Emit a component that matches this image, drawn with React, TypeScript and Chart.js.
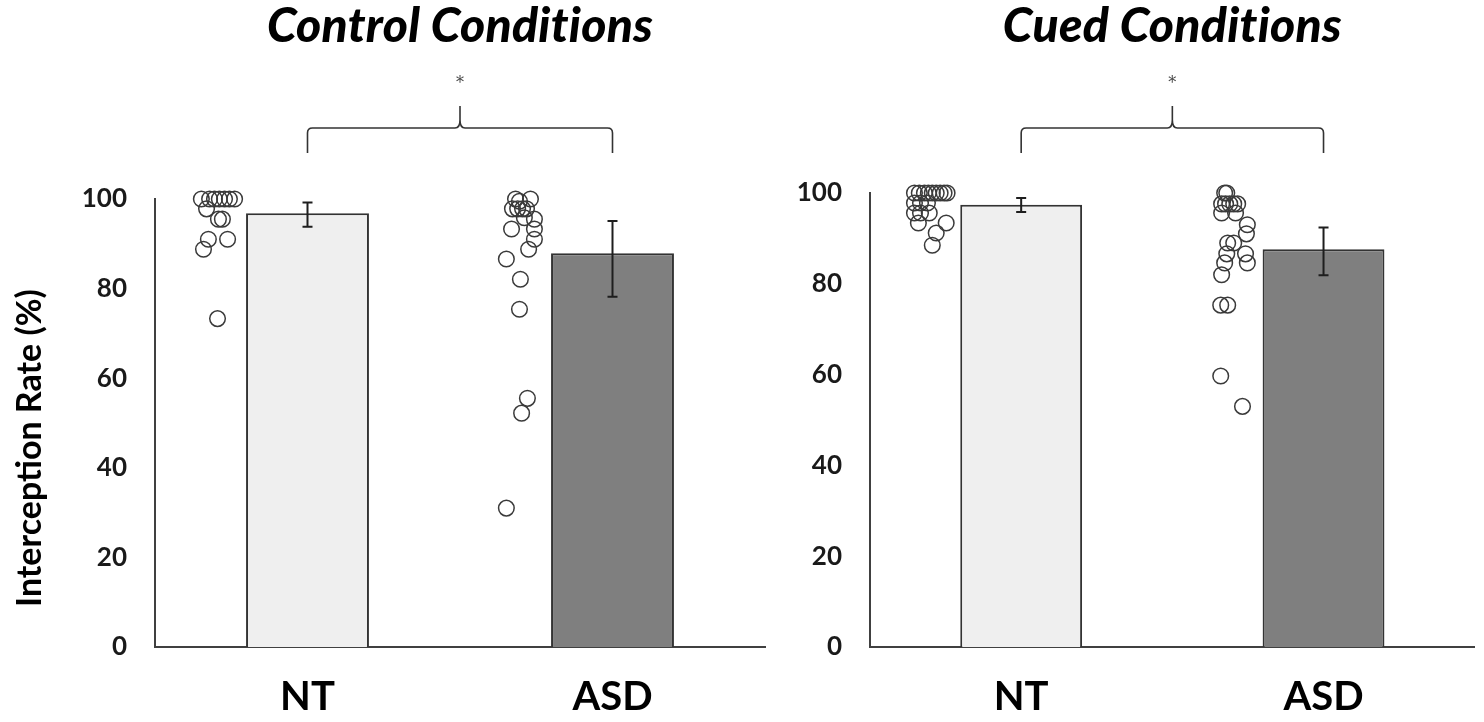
import React, { useEffect, useRef } from "react";
import { Chart, registerables } from "chart.js";

Chart.register(...registerables);

const categories = ["NT", "ASD"];
const yTickValues = [0, 20, 40, 60, 80, 100];
const yAxisTitle = "Interception Rate (%)";
const significance = "*";

// Control conditions
const ctrlTitle = "Control Conditions";
const ctrlMeans = [96.8, 87.9];
const ctrlErrLow = [93.8, 78.2];
const ctrlErrHigh = [99.2, 95.1];
const ctrlNtX = [0.652, 0.679, 0.695, 0.711, 0.728, 0.744, 0.761, 0.669, 0.708, 0.721, 0.675, 0.738, 0.659, 0.705];
const ctrlNtY = [100, 100, 100, 100, 100, 100, 100, 97.8, 95.5, 95.5, 91, 91, 88.8, 73.3];
const ctrlAsdX = [1.682, 1.731, 1.695, 1.672, 1.689, 1.705, 1.718, 1.711, 1.744, 1.669, 1.744, 1.744, 1.725, 1.652, 1.698, 1.695, 1.721, 1.702, 1.652];
const ctrlAsdY = [100, 100, 99.5, 97.8, 97.8, 97.8, 97.8, 95.8, 95.5, 93.3, 93.3, 91, 88.8, 86.6, 82.1, 75.4, 55.5, 52.2, 31];

// Cued conditions
const cuedTitle = "Cued Conditions";
const cuedMeans = [97.4, 87.6];
const cuedErrLow = [95.8, 81.9];
const cuedErrHigh = [98.9, 92.4];
const cuedNtX = [0.647, 0.663, 0.68, 0.693, 0.706, 0.719, 0.732, 0.745, 0.755, 0.647, 0.667, 0.69, 0.647, 0.667, 0.696, 0.66, 0.752, 0.719, 0.706];
const cuedNtY = [100, 100, 100, 100, 100, 100, 100, 100, 100, 97.8, 97.8, 97.8, 95.6, 95.6, 95.6, 93.4, 93.4, 91.2, 88.5];
const cuedAsdX = [1.673, 1.68, 1.663, 1.676, 1.69, 1.703, 1.716, 1.663, 1.709, 1.748, 1.745, 1.683, 1.703, 1.68, 1.742, 1.673, 1.748, 1.663, 1.66, 1.683, 1.66, 1.732];
const cuedAsdY = [100, 100, 97.6, 97.6, 97.6, 97.6, 97.6, 95.6, 95.6, 93, 91, 89, 89, 86.6, 86.6, 84.6, 84.6, 82, 75.3, 75.3, 59.7, 53];

const FONT = "Lato, 'Open Sans', sans-serif";

const overlayPlugin = {
  id: "overlay",
  afterDatasetsDraw(chart: any, _args: any, opts: any) {
    const { ctx, chartArea } = chart;
    const xs = chart.scales.x;
    const ys = chart.scales.y;
    ctx.save();
    // error bars
    ctx.strokeStyle = "#1e1e1e";
    ctx.lineWidth = 2;
    opts.low.forEach((lo: number, i: number) => {
      const px = xs.getPixelForValue(i + 1);
      const yl = ys.getPixelForValue(lo);
      const yh = ys.getPixelForValue(opts.high[i]);
      ctx.beginPath();
      ctx.moveTo(px, yl);
      ctx.lineTo(px, yh);
      ctx.moveTo(px - 5, yl);
      ctx.lineTo(px + 5, yl);
      ctx.moveTo(px - 5, yh);
      ctx.lineTo(px + 5, yh);
      ctx.stroke();
    });
    // title
    const cx = (chartArea.left + chartArea.right) / 2;
    ctx.fillStyle = "#000";
    ctx.font = `italic 900 48px ${FONT}`;
    ctx.textAlign = "center";
    ctx.textBaseline = "middle";
    try {
      (ctx as any).letterSpacing = "0.3px";
    } catch (e) {}
    ctx.fillText(opts.title, cx, 27);
    try {
      (ctx as any).letterSpacing = "0px";
    } catch (e) {}
    // bracket
    const x1 = xs.getPixelForValue(1);
    const x2 = xs.getPixelForValue(2);
    const mid = (x1 + x2) / 2;
    const yH = 128, yEnd = 153, yTip = 106, r = 5;
    ctx.strokeStyle = "#333";
    ctx.lineWidth = 1.6;
    ctx.beginPath();
    ctx.moveTo(x1, yEnd);
    ctx.lineTo(x1, yH + r);
    ctx.quadraticCurveTo(x1, yH, x1 + r, yH);
    ctx.lineTo(mid - r, yH);
    ctx.quadraticCurveTo(mid, yH, mid, yH - 8);
    ctx.lineTo(mid, yTip);
    ctx.moveTo(mid, yH - 8);
    ctx.quadraticCurveTo(mid, yH, mid + r, yH);
    ctx.lineTo(x2 - r, yH);
    ctx.quadraticCurveTo(x2, yH, x2, yH + r);
    ctx.lineTo(x2, yEnd);
    ctx.stroke();
    // asterisk
    ctx.fillStyle = "#444";
    ctx.font = "16px 'DejaVu Serif', serif";
    ctx.fillText(significance, mid, 84);
    // y-axis title
    if (opts.yTitle) {
      ctx.save();
      ctx.translate(30, 448);
      ctx.rotate(-Math.PI / 2);
      ctx.fillStyle = "#000";
      ctx.font = `bold 34px ${FONT}`;
      ctx.fillText(opts.yTitle, 0, 0);
      ctx.restore();
    }
    ctx.restore();
  },
};

function makeConfig(
  title: string,
  means: number[],
  low: number[],
  high: number[],
  ntX: number[],
  ntY: number[],
  asdX: number[],
  asdY: number[],
  yWidth: number,
  padTop: number,
  padRight: number,
  yTitle: string | null
): any {
  const points = [
    ...ntX.map((x, i) => ({ x, y: ntY[i] })),
    ...asdX.map((x, i) => ({ x, y: asdY[i] })),
  ];
  return {
    type: "bar",
    data: {
      datasets: [
        {
          type: "scatter",
          data: points,
          clip: false,
          pointRadius: 7.8,
          pointHoverRadius: 7.8,
          borderColor: "#3a3a3a",
          borderWidth: 1.5,
          backgroundColor: "rgba(0,0,0,0)",
          order: 0,
        },
        {
          type: "bar",
          data: means.map((v, i) => ({ x: i + 1, y: v })),
          backgroundColor: ["#efefef", "#7f7f7f"],
          borderColor: "#333",
          borderWidth: 2,
          barPercentage: 0.403,
          categoryPercentage: 1,
          order: 1,
        },
      ],
    },
    options: {
      animation: false,
      responsive: false,
      maintainAspectRatio: false,
      layout: { padding: { top: padTop, right: padRight, left: 0, bottom: 0 } },
      plugins: {
        legend: { display: false },
        tooltip: { enabled: false },
        title: { display: false },
        overlay: { title, low, high, yTitle },
      },
      scales: {
        x: {
          type: "linear",
          min: 0.5,
          max: 2.5,
          offset: false,
          grid: { display: false, drawTicks: false },
          border: { display: true, color: "#404040", width: 2 },
          afterBuildTicks: (s: any) => {
            s.ticks = categories.map((_, i) => ({ value: i + 1 }));
          },
          afterFit: (s: any) => {
            s.height = 75;
          },
          ticks: {
            padding: 26,
            color: "#000",
            font: { family: FONT, weight: "bold", size: 40 },
            callback: (v: number) => categories[Math.round(v) - 1] ?? "",
            maxRotation: 0,
            autoSkip: false,
          },
        },
        y: {
          min: 0,
          max: 100,
          grid: { display: false, drawTicks: false },
          border: { display: true, color: "#404040", width: 2 },
          afterBuildTicks: (s: any) => {
            s.ticks = yTickValues.map((value) => ({ value }));
          },
          afterFit: (s: any) => {
            s.width = yWidth;
          },
          ticks: {
            padding: 28,
            color: "#1a1a1a",
            font: { family: FONT, weight: "bold", size: 26 },
          },
        },
      },
    },
    plugins: [overlayPlugin],
  };
}

function Panel(props: { cfg: any; width: number; height: number; left: number }) {
  const ref = useRef<HTMLCanvasElement | null>(null);
  useEffect(() => {
    if (!ref.current) return;
    const chart = new Chart(ref.current, props.cfg);
    return () => chart.destroy();
  }, []);
  return (
    <canvas
      ref={ref}
      width={props.width}
      height={props.height}
      style={{ position: "absolute", left: props.left, top: 0, width: props.width, height: props.height }}
    />
  );
}

export default function App() {
  const leftCfg = makeConfig(ctrlTitle, ctrlMeans, ctrlErrLow, ctrlErrHigh, ctrlNtX, ctrlNtY, ctrlAsdX, ctrlAsdY, 155, 199, 15, yAxisTitle);
  const rightCfg = makeConfig(cuedTitle, cuedMeans, cuedErrLow, cuedErrHigh, cuedNtX, cuedNtY, cuedAsdX, cuedAsdY, 90, 193, 2, null);
  return (
    <div style={{ position: "absolute", left: 0, top: 0, width: 1484, height: 722, background: "#fff", overflow: "hidden" }}>
      <Panel cfg={leftCfg} width={780} height={722} left={0} />
      <Panel cfg={rightCfg} width={704} height={722} left={780} />
    </div>
  );
}
